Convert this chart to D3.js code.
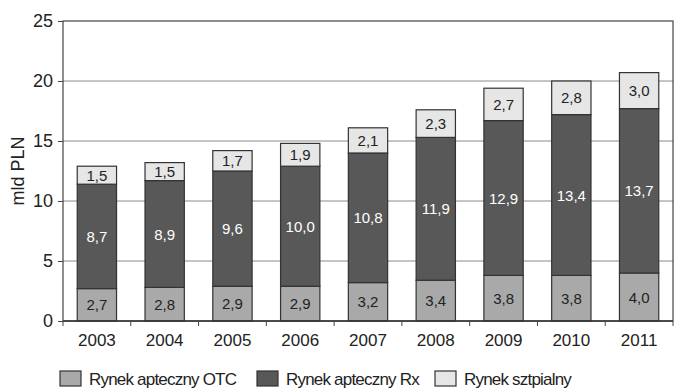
<!DOCTYPE html>
<html>
<head>
<meta charset="utf-8">
<script src="https://cdn.jsdelivr.net/npm/d3@7"></script>
<style>
  html, body { margin: 0; padding: 0; background: #fff; }
  svg { display: block; font-family: "Liberation Sans", Arial, Helvetica, sans-serif; }
</style>
</head>
<body>
<svg id="chart" width="675" height="388"></svg>
<script>
// Rynek farmaceutyczny w Polsce, mld PLN
const years = ["2003", "2004", "2005", "2006", "2007", "2008", "2009", "2010", "2011"];
const otc = [2.7, 2.8, 2.9, 2.9, 3.2, 3.4, 3.8, 3.8, 4.0];
const rx = [8.7, 8.9, 9.6, 10.0, 10.8, 11.9, 12.9, 13.4, 13.7];
const hospital = [1.5, 1.5, 1.7, 1.9, 2.1, 2.3, 2.7, 2.8, 3.0];
const yTicks = [0, 5, 10, 15, 20, 25];
const seriesNames = ["Rynek apteczny OTC", "Rynek apteczny Rx", "Rynek sztpialny"];

const fills = ["#a9a9a9", "#585858", "#e6e6e6"];
const labelColors = ["#222", "#fff", "#222"];

const svg = d3.select("#chart");
const m = { left: 63, right: 2, top: 21, bottom: 67 };
const W = 675, H = 388;
const pw = W - m.left - m.right, ph = H - m.top - m.bottom;

const x = d3.scaleBand().domain(years).range([0, pw]).paddingInner(0.42).paddingOuter(0.21);
const xb = d3.scaleBand().domain(years).range([0, pw]);
const y = d3.scaleLinear().domain([0, 25]).range([ph, 0]);

const g = svg.append("g").attr("transform", `translate(${m.left},${m.top})`);

// horizontal grid
g.append("g").selectAll("line").data(yTicks.slice(1, -1)).join("line")
  .attr("x1", 0).attr("x2", pw)
  .attr("y1", d => y(d)).attr("y2", d => y(d))
  .attr("stroke", "#8a8a8a").attr("stroke-width", 1);

// stacked data
const rows = years.map((yr, i) => ({ year: yr, otc: otc[i], rx: rx[i], hospital: hospital[i] }));
const stack = d3.stack().keys(["otc", "rx", "hospital"])(rows);

stack.forEach((layer, li) => {
  const lg = g.append("g");
  lg.selectAll("rect").data(layer).join("rect")
    .attr("x", d => x(d.data.year))
    .attr("width", x.bandwidth())
    .attr("y", d => y(d[1]))
    .attr("height", d => y(d[0]) - y(d[1]))
    .attr("fill", fills[li])
    .attr("stroke", "#333")
    .attr("stroke-width", 1.2);
  lg.selectAll("text").data(layer).join("text")
    .attr("x", d => x(d.data.year) + x.bandwidth() / 2)
    .attr("y", d => (y(d[0]) + y(d[1])) / 2 + 5.5)
    .attr("text-anchor", "middle")
    .attr("font-size", 15)
    .attr("fill", labelColors[li])
    .text(d => d3.format(".1f")(d[1] - d[0]).replace(".", ","));
});

// frame
g.append("rect").attr("x", 0).attr("y", 0).attr("width", pw).attr("height", ph)
  .attr("fill", "none").attr("stroke", "#444").attr("stroke-width", 1.2);

// y axis
const yAxis = g.append("g").call(d3.axisLeft(y).tickValues(yTicks).tickSize(5).tickPadding(5));
yAxis.select(".domain").remove();
yAxis.selectAll("line").attr("stroke", "#444");
yAxis.selectAll("text").attr("font-size", 18).attr("fill", "#222").attr("font-family", null);

// x axis: ticks at category boundaries
const xAxis = g.append("g").attr("transform", `translate(0,${ph})`);
xAxis.append("line").attr("x1", 0).attr("x2", pw).attr("stroke", "#333").attr("stroke-width", 1.5);
xAxis.selectAll("line.tick").data(years.concat(["end"])).join("line")
  .attr("class", "tick")
  .attr("x1", (d, i) => i < years.length ? xb(d) : pw)
  .attr("x2", (d, i) => i < years.length ? xb(d) : pw)
  .attr("y1", 0).attr("y2", 5).attr("stroke", "#444");
xAxis.selectAll("text").data(years).join("text")
  .attr("x", d => x(d) + x.bandwidth() / 2)
  .attr("y", 25)
  .attr("text-anchor", "middle")
  .attr("font-size", 17)
  .attr("fill", "#222")
  .text(d => d);

// y axis title
svg.append("text")
  .attr("transform", `translate(24,${m.top + ph / 2}) rotate(-90)`)
  .attr("text-anchor", "middle")
  .attr("font-size", 18)
  .attr("fill", "#222")
  .text("mld PLN");

// legend
const legendX = [60, 257, 435];
const legend = svg.append("g");
seriesNames.forEach((name, i) => {
  legend.append("rect")
    .attr("x", legendX[i]).attr("y", 371).attr("width", 21).attr("height", 15)
    .attr("fill", fills[i]).attr("stroke", "#333").attr("stroke-width", 1.2);
  legend.append("text")
    .attr("x", legendX[i] + 29).attr("y", 385)
    .attr("font-size", 17).attr("letter-spacing", -0.8).attr("fill", "#222")
    .text(name);
});
</script>
</body>
</html>
